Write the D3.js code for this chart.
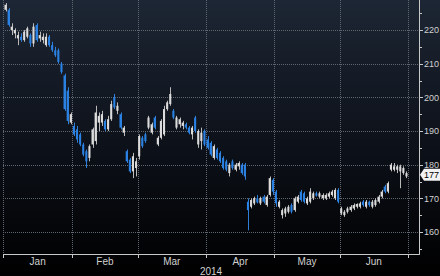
<!DOCTYPE html>
<html>
<head>
<meta charset="utf-8">
<script src="https://cdn.jsdelivr.net/npm/d3@7"></script>
<style>
  html, body { margin: 0; padding: 0; background: #000; }
  svg { display: block; }
</style>
</head>
<body>
<div id="container"></div>
<script>

// daily candles, [open, high, low, close]
var jan = [[226, 228, 225.5, 227.5], [226, 226.5, 221, 221.5], [220, 222, 218.5, 221], [219, 220.5, 217.5, 220],
  [217.5, 219.5, 215.5, 218.5], [218, 219, 216.5, 217], [217, 220, 216.5, 219.5], [218, 221, 217.5, 220.5],
  [218.5, 219, 215, 216], [216, 222, 215, 221], [221.5, 222, 216.5, 217], [217.5, 219.5, 216.5, 218.5],
  [217, 219, 216, 218], [215.5, 219, 215, 218], [218, 218.5, 215, 215.5], [215.5, 216.5, 213.5, 214],
  [214, 215, 212, 212.5], [214, 214.5, 210, 210.5], [210, 210.5, 207, 207.5], [206.5, 207, 196, 196.5],
  [202, 203, 192, 193], [192.5, 195.5, 192, 195]];
var feb = [[191.5, 192.5, 188.5, 189], [190.5, 191.5, 186.5, 187.5], [189, 189.5, 185.5, 186], [186, 186.5, 182.5, 183],
  [184, 184.5, 179, 181], [182, 186, 181, 185.5], [186, 191, 185, 190.5], [187, 197.5, 186, 195.5],
  [192.5, 195.5, 190, 194.5], [192.5, 196, 191.5, 195], [193, 193.5, 190, 190.5], [190.5, 194.5, 190, 193.5],
  [193.5, 199, 193, 198], [200, 201, 196.5, 197], [196, 198.5, 195, 197.5], [195, 195.5, 190.5, 191],
  [189.5, 191.5, 188.5, 191], [184, 184.5, 180.5, 181], [181.5, 182, 177.5, 178], [178, 183.5, 176, 182.5],
  [179, 182, 176.5, 181]];
var mar = [[182.5, 189, 181.5, 188.5], [188, 188.5, 185, 185.5], [189, 189.5, 186.5, 187], [191, 194.5, 190.5, 194],
  [189.5, 192.5, 189, 192], [194, 194.5, 190.5, 191], [186, 188.5, 185.5, 188], [188, 193.5, 187.5, 193],
  [189, 197.5, 188.5, 196.5], [196.5, 199, 196, 198.5], [198, 203, 197.5, 201], [196, 196.5, 193.5, 194],
  [191, 194.5, 190.5, 194], [192, 194, 191, 193.5], [191.5, 193, 190.5, 192.5], [192, 192.5, 190.5, 191],
  [191, 191.5, 189, 189.5], [189, 191.5, 187.5, 191], [194, 194.5, 189.5, 190], [186, 190.5, 185, 190],
  [187, 191, 184.5, 189.5], [190, 190.5, 185.5, 186]];
var apr = [[187.5, 188.5, 184.5, 185], [186.5, 187, 182.5, 183], [182, 186, 181.5, 185.5], [184.5, 185, 181.5, 182],
  [183.5, 184, 180.5, 181], [182, 182.5, 178.5, 179], [181, 181.5, 178, 178.5], [177.5, 180.5, 176.5, 180],
  [181, 181.5, 178.5, 179], [178.5, 180.5, 178, 180], [179.5, 181, 178.5, 180.5], [180, 180.5, 177, 177.5],
  [180, 180.5, 175.5, 176.5], [169, 170, 160.5, 166.5], [167.5, 170, 167, 169.5], [168.5, 170.5, 168, 170],
  [170, 171, 168.5, 168.8], [168.5, 170.5, 168, 170], [170.5, 171, 168.5, 169], [168, 171, 167.5, 170.5],
  [171, 176.5, 170.5, 176], [175.5, 176, 171, 172]];
var may = [[172, 172.5, 167.5, 168.5], [167.5, 169.5, 167, 169], [165, 167, 164, 166.5], [165.5, 167.5, 164.5, 167],
  [166, 168, 165.5, 167.5], [168, 168.5, 165.5, 166], [166.5, 170.5, 166, 170], [169, 171, 168.5, 170.5],
  [172, 172.5, 169, 169.5], [171.5, 172, 168.5, 169], [168.5, 170.5, 168, 170], [169, 173, 168.5, 172],
  [170, 172, 169.5, 171.5], [171.5, 172, 170.5, 170.8], [170.5, 172, 170, 171.5], [170, 171.5, 169.5, 171],
  [170, 171.5, 169.5, 171], [170.5, 172, 170, 171.5], [171, 172.5, 170.5, 172], [170, 173, 169.5, 172.5],
  [172.5, 173, 168.5, 169]];
var jun = [[165.5, 167.5, 165, 167], [165, 166.5, 164.5, 166], [166, 167.5, 165.5, 167], [166.5, 168, 166, 167.5],
  [167, 168.5, 166.5, 168], [167.5, 168.5, 167, 168.3], [167.5, 169, 167, 168.5], [169, 169.5, 167.5, 168],
  [167.5, 169.5, 167, 169], [169, 169.3, 167.5, 168], [167.5, 169.5, 167, 169], [168, 170, 167.5, 169.5],
  [169, 171, 168.5, 170.5], [170.5, 172.5, 170, 172], [173.5, 174, 171.5, 172], [172, 175, 171.5, 174.5],
  [178.5, 180.5, 178, 180], [178.5, 180.5, 178, 179.5], [178.5, 180, 177.5, 179.5], [178, 180, 173, 179.5],
  [177.5, 179.5, 177, 179], [176.5, 178, 176, 177.5]];

var months = ["Jan", "Feb", "Mar", "Apr", "May", "Jun"];
var yearLabel = "2014";
var yTicks = [160, 170, 180, 190, 200, 210, 220];
var lastPrice = 177;


function build_candles() {
	var all = [jan, feb, mar, apr, may, jun];
	var candles = [];
	var starts = [];
	for (var m = 0; m < all.length; m++) {
		starts.push(candles.length);
		for (var i = 0; i < all[m].length; i++) {
			var d = all[m][i];
			candles.push({i: candles.length, open: d[0], high: d[1], low: d[2], close: d[3]});
		};
	};
	starts.push(candles.length);
	return [candles, starts];
};


function drawit() {
	var width = 440, height = 276;
	var plotLeft = 3, plotRight = 419, plotBottom = 254;
	var font = "Liberation Sans, Arial, sans-serif";

	var svg = d3.select("#container").append("svg")
		.attr("width", width)
		.attr("height", height);

	var grad = svg.append("defs").append("linearGradient")
		.attr("id", "bg").attr("x1", 0).attr("y1", 0).attr("x2", 0).attr("y2", 1);
	grad.append("stop").attr("offset", "0%").attr("stop-color", "#1d2634");
	grad.append("stop").attr("offset", "55%").attr("stop-color", "#0c1018");
	grad.append("stop").attr("offset", "100%").attr("stop-color", "#000000");
	svg.append("rect").attr("width", width).attr("height", height).attr("fill", "url(#bg)");

	var r = build_candles();
	var candles = r[0], starts = r[1];

	var x = d3.scaleBand()
		.domain(d3.range(candles.length))
		.range([4, 408])
		.paddingInner(0.33)
		.paddingOuter(0.15);
	var y = d3.scaleLinear().domain([160, 220]).range([232, 30]);

	// month boundary positions
	function boundary(idx) {
		if (idx >= candles.length) return 408;
		return x(idx) - (x.step() - x.bandwidth()) / 2;
	};
	var bounds = starts.map(boundary);
	bounds[0] = plotLeft;

	// grid
	svg.append("g").selectAll("line.h")
		.data(yTicks)
		.enter().append("line")
		.attr("x1", plotLeft).attr("x2", plotRight)
		.attr("y1", function(d) { return Math.round(y(d)) + 0.5; })
		.attr("y2", function(d) { return Math.round(y(d)) + 0.5; })
		.attr("stroke", "#5f6670").attr("stroke-dasharray", "1,1");
	svg.append("g").selectAll("line.v")
		.data(bounds)
		.enter().append("line")
		.attr("x1", function(d) { return Math.round(d) + 0.5; })
		.attr("x2", function(d) { return Math.round(d) + 0.5; })
		.attr("y1", 0).attr("y2", plotBottom)
		.attr("stroke", "#5f6670").attr("stroke-dasharray", "1,1");

	// candles
	var g = svg.append("g");
	g.selectAll("line.wick")
		.data(candles)
		.enter().append("line")
		.attr("x1", function(d) { return Math.round(x(d.i) + x.bandwidth() / 2) + 0.5; })
		.attr("x2", function(d) { return Math.round(x(d.i) + x.bandwidth() / 2) + 0.5; })
		.attr("y1", function(d) { return y(d.high); })
		.attr("y2", function(d) { return y(d.low); })
		.attr("stroke", function(d) { return d.close < d.open ? "#2f7fd8" : "#b9b9b9"; })
		.attr("stroke-width", 1);
	g.selectAll("rect.body")
		.data(candles)
		.enter().append("rect")
		.attr("x", function(d) { return x(d.i); })
		.attr("width", x.bandwidth())
		.attr("y", function(d) { return y(Math.max(d.open, d.close)); })
		.attr("height", function(d) { return Math.max(1, Math.abs(y(d.open) - y(d.close))); })
		.attr("fill", function(d) { return d.close < d.open ? "#2a82e4" : "#dcdcdc"; });

	// axes lines
	svg.append("line")
		.attr("x1", plotRight + 0.5).attr("x2", plotRight + 0.5)
		.attr("y1", 0).attr("y2", plotBottom + 0.5)
		.attr("stroke", "#c8c8c8");
	svg.append("line")
		.attr("x1", plotLeft).attr("x2", plotRight + 1)
		.attr("y1", plotBottom + 0.5).attr("y2", plotBottom + 0.5)
		.attr("stroke", "#c8c8c8");

	// right axis ticks and labels
	var minor = d3.range(155, 230, 5);
	svg.append("g").selectAll("line")
		.data(minor)
		.enter().append("line")
		.attr("x1", plotRight + 1).attr("x2", function(d) { return d % 10 == 0 ? plotRight + 4 : plotRight + 3; })
		.attr("y1", function(d) { return Math.round(y(d)) + 0.5; })
		.attr("y2", function(d) { return Math.round(y(d)) + 0.5; })
		.attr("stroke", "#c8c8c8");
	svg.append("g").selectAll("text")
		.data(yTicks)
		.enter().append("text")
		.attr("x", plotRight + 5)
		.attr("y", function(d) { return y(d) + 3.3; })
		.attr("font-family", font)
		.attr("font-size", 9)
		.attr("fill", "#d0d0d0")
		.text(function(d) { return d; });

	// bottom ticks and month labels
	svg.append("g").selectAll("line")
		.data(bounds)
		.enter().append("line")
		.attr("x1", function(d) { return Math.round(d) + 0.5; })
		.attr("x2", function(d) { return Math.round(d) + 0.5; })
		.attr("y1", plotBottom).attr("y2", plotBottom + 4)
		.attr("stroke", "#c8c8c8");
	svg.append("g").selectAll("text")
		.data(months)
		.enter().append("text")
		.attr("x", function(d, i) { return (bounds[i] + bounds[i + 1]) / 2; })
		.attr("y", 265)
		.attr("text-anchor", "middle")
		.attr("font-family", font)
		.attr("font-size", 10)
		.attr("fill", "#d0d0d0")
		.text(function(d) { return d; });
	svg.append("text")
		.attr("x", 211).attr("y", 275)
		.attr("text-anchor", "middle")
		.attr("font-family", font)
		.attr("font-size", 10)
		.attr("fill", "#d0d0d0")
		.text(yearLabel);

	// last price tag
	var ty = y(lastPrice);
	svg.append("path")
		.attr("d", "M" + (plotRight + 1) + "," + ty + " L" + (plotRight + 5) + "," + (ty - 6) +
			" L441," + (ty - 6) + " L441," + (ty + 6) + " L" + (plotRight + 5) + "," + (ty + 6) + " Z")
		.attr("fill", "#f2f2f2");
	svg.append("text")
		.attr("x", plotRight + 5)
		.attr("y", ty + 3.3)
		.attr("font-family", font)
		.attr("font-size", 9)
		.attr("fill", "#000")
		.text(lastPrice);
};


drawit();

</script>
</body>
</html>
